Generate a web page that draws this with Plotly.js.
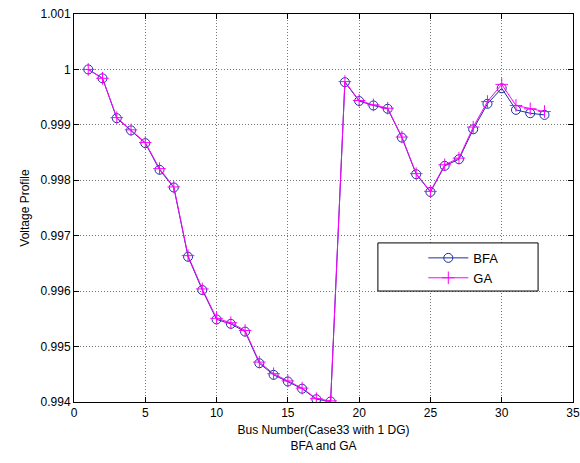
<!DOCTYPE html>
<html><head><meta charset="utf-8">
<script src="https://cdn.plot.ly/plotly-3.0.1.min.js"></script>
<style>html,body{margin:0;padding:0;background:#fff}#chart{width:580px;height:463px}</style>
</head><body><div id="chart"></div>
<script>
const buses = [1,2,3,4,5,6,7,8,9,10,11,12,13,14,15,16,17,18,19,20,21,22,23,24,25,26,27,28,29,30,31,32,33];
const bfa = [1.0000,0.99984,0.99912,0.99890,0.99867,0.99819,0.99787,0.99662,0.99602,0.99549,0.99541,0.99527,0.99470,0.99449,0.99437,0.99424,0.99405,0.99401,
             0.99977,0.99943,0.99935,0.99929,0.99877,0.99811,0.99779,0.99826,0.99838,0.99892,0.99938,0.99966,0.99927,0.99921,0.99918];
const ga  = [1.0000,0.99984,0.99913,0.99891,0.99868,0.99821,0.99788,0.99664,0.99604,0.99551,0.99543,0.99529,0.99472,0.99451,0.99438,0.99425,0.99406,0.99402,
             0.99978,0.99944,0.99936,0.99930,0.99878,0.99812,0.99780,0.99828,0.99840,0.99896,0.99942,0.99973,0.99935,0.99929,0.99924];
const xTicks = [0,5,10,15,20,25,30,35];
const yTicks = [0.994,0.995,0.996,0.997,0.998,0.999,1,1.001];

const font = {family: '"Liberation Sans", Arial, sans-serif', size: 12, color: '#000'};
const traces = [
  {x: buses, y: bfa, name: 'BFA', mode: 'lines+markers', type: 'scatter',
   line: {color: '#1a2fa0', width: 1},
   marker: {symbol: 'circle-open', size: 9, color: '#1a2fa0', line: {width: 1}}},
  {x: buses, y: ga, name: 'GA', mode: 'lines+markers', type: 'scatter',
   line: {color: '#ff00ff', width: 1},
   marker: {symbol: 'cross-thin-open', size: 9, color: '#ff00ff', line: {width: 1, color: '#ff00ff'}}}
];
const axisCommon = {
  showline: true, linecolor: '#000', linewidth: 1, mirror: 'ticks',
  ticks: 'inside', ticklen: 5, tickcolor: '#000',
  showgrid: true, gridcolor: '#777', griddash: '1px,2px', gridwidth: 1,
  zeroline: false, tickfont: font
};
const layout = {
  width: 580, height: 463,
  margin: {l: 74, r: 7, t: 14, b: 61},
  paper_bgcolor: '#fff', plot_bgcolor: '#fff',
  font: font,
  showlegend: true,
  shapes: [{type: 'rect', xref: 'paper', yref: 'paper', x0: 0.609, x1: 0.93, y0: 0.286, y1: 0.41,
            fillcolor: '#fff', line: {color: '#000', width: 1}, layer: 'above'}],
  legend: {x: 0.70, y: 0.41, xanchor: 'left', yanchor: 'top',
           borderwidth: 0, bgcolor: 'rgba(0,0,0,0)',
           font: {family: font.family, size: 13, color: '#000'},
           itemwidth: 40, tracegroupgap: 2},
  xaxis: Object.assign({}, axisCommon, {
    range: [0, 35], tickvals: xTicks, ticktext: xTicks.map(String),
    title: {text: 'Bus Number(Case33 with 1 DG)<br>BFA and GA', font: font, standoff: 6}
  }),
  yaxis: Object.assign({}, axisCommon, {
    range: [0.994, 1.001], tickvals: yTicks, ticktext: yTicks.map(v => String(+v.toFixed(3))),
    title: {text: 'Voltage Profile', font: font, standoff: 8}
  })
};
Plotly.newPlot('chart', traces, layout, {displayModeBar: false, staticPlot: true});
</script></body></html>
